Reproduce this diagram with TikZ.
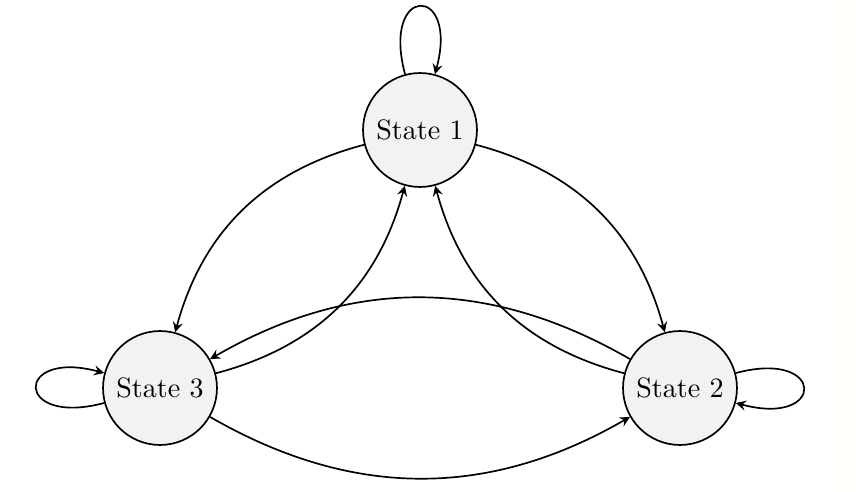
\documentclass[tikz,border=0pt]{standalone}
\usetikzlibrary{arrows}
\definecolor{edgetint}{RGB}{255,255,251}
\begin{document}
\begin{tikzpicture}[x=0.3563pt,y=-0.3563pt,
  state/.style={circle,draw,semithick,fill=black!5,minimum size=40.6pt,inner sep=0pt},
  link/.style={->,>=stealth,semithick}]
\fill[edgetint] (0,0) rectangle (856,492);
\fill[white] (8,0) rectangle (829,492);
\useasboundingbox (0,0) rectangle (856,492);
\node[state] (s1) at (420,130) {State 1};
\node[state] (s3) at (160,388) {State 3};
\node[state] (s2) at (680,388) {State 2};
\draw[link] (s1) to[loop above] (s1);
\draw[link] (s3) to[loop left] (s3);
\draw[link] (s2) to[loop right] (s2);
\draw[link] (s1) to[bend right=30] (s3);
\draw[link] (s3) to[bend right=30] (s1);
\draw[link] (s1) to[bend left=30] (s2);
\draw[link] (s2) to[bend left=30] (s1);
\draw[link] (s2) to[bend right=30] (s3);
\draw[link] (s3) to[bend right=30] (s2);
\end{tikzpicture}
\end{document}
